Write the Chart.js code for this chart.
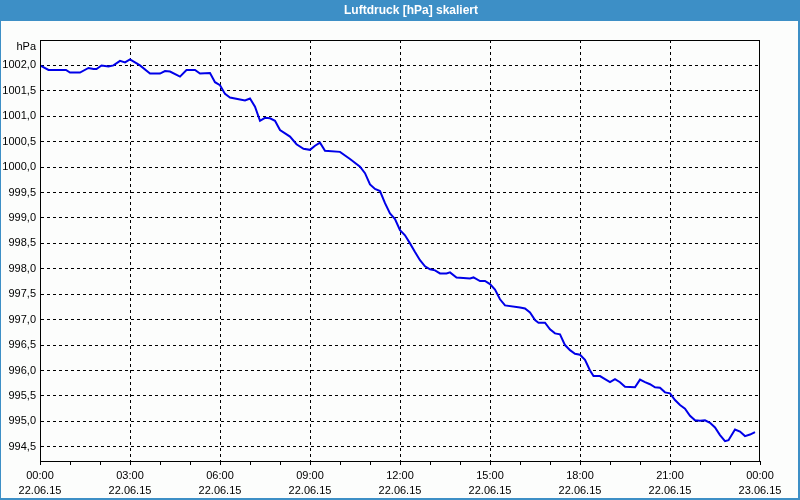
<!DOCTYPE html>
<html>
<head>
<meta charset="utf-8">
<script src="https://cdn.jsdelivr.net/npm/chart.js@4/dist/chart.umd.min.js"></script>
<style>
  html, body { margin: 0; padding: 0; background: #fcfdfc; }
  #wrap { width: 800px; height: 500px; position: relative; }
  canvas { display: block; }
</style>
</head>
<body>
<div id="wrap"><canvas id="c" width="800" height="500"></canvas></div>
<script>
// ---- data ----
const chartTitle = 'Luftdruck [hPa] skaliert';
const unitLabel = 'hPa';
// time in minutes since 22.06.15 00:00
const timeMin = [0,17,52,60,80,97,107,113,123,137,147,160,170,180,200,220,240,250,260,280,293,310,320,340,350,360,370,380,400,410,420,430,440,450,460,470,480,500,513,527,540,550,560,570,600,620,640,650,660,670,680,690,700,710,720,730,740,750,760,770,780,790,800,813,820,833,860,867,880,890,900,910,920,930,960,970,980,990,997,1010,1020,1030,1040,1050,1060,1070,1080,1090,1100,1107,1120,1130,1140,1150,1160,1170,1190,1200,1210,1220,1230,1240,1250,1260,1270,1280,1290,1300,1310,1320,1330,1340,1350,1360,1370,1377,1390,1400,1410,1420,1430];
const pressure = [1002.00,1001.91,1001.91,1001.86,1001.86,1001.95,1001.93,1001.93,1002.00,1001.98,1002.00,1002.09,1002.06,1002.12,1002.00,1001.84,1001.84,1001.89,1001.88,1001.78,1001.91,1001.91,1001.84,1001.85,1001.67,1001.61,1001.44,1001.37,1001.33,1001.31,1001.35,1001.19,1000.91,1000.97,1000.96,1000.91,1000.73,1000.60,1000.45,1000.36,1000.34,1000.42,1000.48,1000.32,1000.30,1000.16,1000.01,999.88,999.66,999.57,999.53,999.29,999.09,998.98,998.76,998.66,998.50,998.33,998.17,998.05,997.99,997.97,997.91,997.91,997.93,997.83,997.81,997.83,997.76,997.76,997.70,997.59,997.40,997.28,997.24,997.22,997.14,996.99,996.94,996.94,996.81,996.73,996.71,996.50,996.40,996.33,996.31,996.21,996.00,995.89,995.89,995.83,995.77,995.83,995.77,995.68,995.67,995.82,995.77,995.73,995.67,995.66,995.57,995.55,995.42,995.32,995.25,995.11,995.02,995.01,995.02,994.97,994.88,994.73,994.61,994.63,994.84,994.80,994.71,994.74,994.79];
const yTicks = [994.5,995.0,995.5,996.0,996.5,997.0,997.5,998.0,998.5,999.0,999.5,1000.0,1000.5,1001.0,1001.5,1002.0];
const xMajorMin = [0,180,360,540,720,900,1080,1260,1440];
const xTimeLabels = ['00:00','03:00','06:00','09:00','12:00','15:00','18:00','21:00','00:00'];
const xDateLabels = ['22.06.15','22.06.15','22.06.15','22.06.15','22.06.15','22.06.15','22.06.15','22.06.15','23.06.15'];

const points = timeMin.map((t, i) => ({ x: t, y: pressure[i] }));
const FONT = '"Liberation Sans", Arial, sans-serif';

const framePlugin = {
  id: 'frame',
  beforeDraw(chart) {
    const ctx = chart.ctx;
    ctx.save();
    ctx.fillStyle = '#fcfdfc';
    ctx.fillRect(0, 0, 800, 500);
    ctx.fillStyle = '#3d8fc6';
    ctx.fillRect(0, 0, 800, 21);
    ctx.fillRect(0, 0, 1, 500);
    ctx.fillRect(798, 0, 2, 500);
    ctx.fillRect(0, 498, 800, 2);
    ctx.fillStyle = '#ffffff';
    ctx.font = 'bold 12px ' + FONT;
    ctx.textAlign = 'center';
    ctx.textBaseline = 'middle';
    ctx.fillText(chartTitle, 411, 11);
    ctx.restore();
  },
  afterDraw(chart) {
    const ctx = chart.ctx;
    const a = chart.chartArea;
    ctx.save();
    ctx.strokeStyle = '#000';
    ctx.lineWidth = 1;
    ctx.strokeRect(Math.round(a.left) + 0.5, Math.round(a.top) + 0.5,
                   Math.round(a.right - a.left) - 1, Math.round(a.bottom - a.top));
    ctx.fillStyle = '#000';
    ctx.font = '11px ' + FONT;
    ctx.textAlign = 'right';
    ctx.textBaseline = 'middle';
    ctx.fillText(unitLabel, 36, 47);
    ctx.restore();
  }
};

new Chart(document.getElementById('c'), {
  type: 'line',
  data: {
    datasets: [{
      data: points,
      borderColor: '#0000e8',
      borderWidth: 2,
      pointRadius: 0,
      tension: 0,
      fill: false
    }]
  },
  options: {
    responsive: false,
    animation: false,
    devicePixelRatio: 1,
    parsing: true,
    layout: { padding: { top: 40, right: 40, left: 0, bottom: 0 } },
    plugins: { legend: { display: false }, tooltip: { enabled: false }, title: { display: false } },
    scales: {
      x: {
        type: 'linear',
        min: 0,
        max: 1440,
        afterBuildTicks: s => {
          const t = [];
          for (let m = 0; m <= 1440; m += 60) t.push({ value: m });
          s.ticks = t;
        },
        afterFit: s => { s.height = 39; },
        ticks: {
          autoSkip: false,
          maxRotation: 0,
          minRotation: 0,
          padding: 3,
          color: '#000',
          font: { family: FONT, size: 11, lineHeight: '15px' },
          callback: v => {
            const i = xMajorMin.indexOf(v);
            return i >= 0 ? [xTimeLabels[i], xDateLabels[i]] : '';
          }
        },
        grid: {
          color: c => (c.tick && c.tick.value % 180 === 0 && c.tick.value > 0 && c.tick.value < 1440) ? '#000' : 'rgba(0,0,0,0)',
          tickColor: '#000',
          tickLength: 4,
          drawOnChartArea: true
        },
        border: { display: true, color: '#000', width: 1, dash: [3, 3] }
      },
      y: {
        type: 'linear',
        min: 994.22,
        max: 1002.5,
        afterBuildTicks: s => { s.ticks = yTicks.map(v => ({ value: v })); },
        afterFit: s => { s.width = 40; },
        ticks: {
          padding: 4,
          color: '#000',
          font: { family: FONT, size: 11 },
          callback: v => Number(v).toFixed(1).replace('.', ',')
        },
        grid: { color: '#000', drawTicks: false },
        border: { display: true, color: '#000', width: 1, dash: [3, 3] }
      }
    }
  },
  plugins: [framePlugin]
});
</script>
</body>
</html>
